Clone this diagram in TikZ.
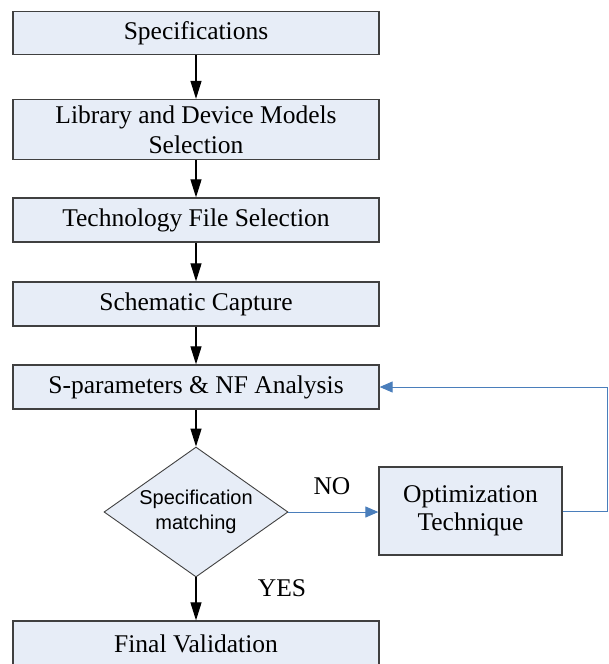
\documentclass[tikz,border=0pt]{standalone}
\usepackage{fontspec}
\setmainfont{Liberation Serif}
\newfontfamily\diafont{Liberation Sans}
\usetikzlibrary{shapes.geometric,arrows.meta}
\definecolor{boxfill}{HTML}{E7EDF7}
\definecolor{boxline}{HTML}{404040}
\definecolor{fbblue}{HTML}{4A7EBB}
\tikzset{
  flowbox/.style={draw=boxline, line width=1.3pt, fill=boxfill, rectangle, inner sep=0pt,
    minimum width=366pt, align=center, font=\fontsize{25.5}{30}\selectfont},
  optbox/.style={draw=boxline, line width=1.3pt, fill=boxfill, rectangle, inner sep=0pt,
    minimum width=183pt, minimum height=88pt, align=center, font=\fontsize{25.5}{28}\selectfont},
  dia/.style={draw=boxline, line width=0.9pt, fill=boxfill, diamond, inner sep=0pt,
    minimum width=184pt, minimum height=130pt},
  blackarrow/.style={draw=black, line width=1.2pt, -{Triangle[length=18pt,width=11pt]}},
  bluearrow/.style={draw=fbblue, line width=1pt, -{Triangle[length=13pt,width=11pt]}},
  lbl/.style={font=\fontsize{25.5}{30}\selectfont, inner sep=0pt}
}
\begin{document}
\begin{tikzpicture}[x=1pt,y=-1pt]
\clip (0,0) rectangle (608,664);
\node[flowbox, minimum height=43pt] (spec) at (196,33) {Specifications};
\node[flowbox, minimum height=60pt] (lib) at (196,129.5) {Library and Device Models\\Selection};
\node[flowbox, minimum height=44pt] (tech) at (196,220) {Technology File Selection};
\node[flowbox, minimum height=44pt] (schem) at (196,304) {Schematic Capture};
\node[flowbox, minimum height=44pt] (spar) at (196,387) {S-parameters \& NF Analysis};
\node[dia, label={[align=center, font=\diafont\fontsize{20}{24.5}\selectfont]center:Specification\\matching}] (match) at (196,512) {};
\node[optbox] (opt) at (470.5,511) {Optimization\\Technique};
\node[flowbox, minimum height=46pt] (final) at (196,644) {Final Validation};
\coordinate (fbcorner) at (607,511);
\node[lbl] (no) at (332,486) {NO};
\node[lbl] (yes) at (282,588) {YES};
\draw[blackarrow] (spec) -- (lib);
\draw[blackarrow] (lib) -- (tech);
\draw[blackarrow] (tech) -- (schem);
\draw[blackarrow] (schem) -- (spar);
\draw[blackarrow] (spar) -- (match);
\draw[blackarrow] (match) -- (final);
\draw[bluearrow] (match.east) -- (opt.west |- match.east);
\draw[bluearrow] (opt.east) -- (fbcorner) |- (spar.east);
\end{tikzpicture}
\end{document}
